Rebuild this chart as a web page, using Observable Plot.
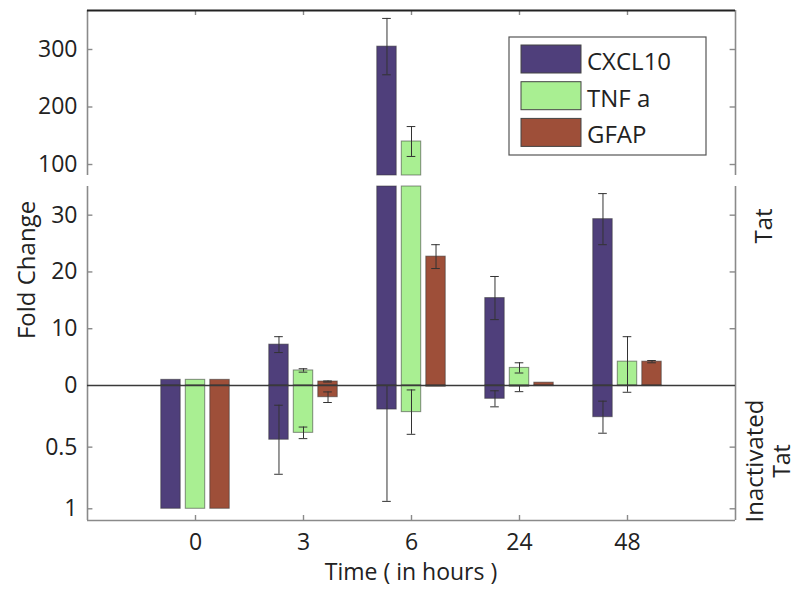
<!DOCTYPE html>
<html><head><meta charset="utf-8">
<script src="https://cdn.jsdelivr.net/npm/d3@7"></script>
<script src="https://cdn.jsdelivr.net/npm/@observablehq/plot@0.6"></script>
<style>
html,body{margin:0;padding:0;background:#fff;}
#chart{position:relative;width:798px;height:589px;font-family:"Open Sans",sans-serif;}
#chart svg{position:absolute;left:0;top:0;}
</style></head><body><div id="chart"></div>
<script>
// ---- data ----
const times = ["0", "3", "6", "24", "48"];
const series = ["CXCL10", "TNF a", "GFAP"];
const colors = ["#4f3f7b", "#a9ef92", "#9e4f39"];

// Tat (fold change, upward)
const tatCXCL10 = [1, 7.2, 305, 15.4, 29.3];
const tatCXCL10Err = [0, 1.4, 49, 3.8, 4.5];
const tatTNF = [1, 2.65, 140, 3.1, 4.2];
const tatTNFErr = [0, 0.3, 26, 0.9, 4.4];
const tatGFAP = [1, 0.7, 22.7, 0.5, 4.2];
const tatGFAPErr = [0, 0.1, 2.1, 0, 0.2];

// Inactivated Tat (downward)
const inaCXCL10 = [1, 0.44, 0.195, 0.108, 0.257];
const inaCXCL10Err = [0, 0.28, 0.745, 0.065, 0.13];
const inaTNF = [1, 0.384, 0.216, 0.01, 0.005];
const inaTNFErr = [0, 0.047, 0.18, 0.04, 0.05];
const inaGFAP = [1, 0.095, 0.01, 0.005, 0.005];
const inaGFAPErr = [0, 0.043, 0, 0, 0];

const topTicks = [100, 200, 300];
const midTicks = [0, 10, 20, 30];
const botTicks = [0.5, 1];

// ---- build rows ----
const tatV = [tatCXCL10, tatTNF, tatGFAP], tatE = [tatCXCL10Err, tatTNFErr, tatGFAPErr];
const inaV = [inaCXCL10, inaTNF, inaGFAP], inaE = [inaCXCL10Err, inaTNFErr, inaGFAPErr];
const rows = [];
series.forEach((s, j) => times.forEach((t, i) => rows.push({
  series: s, j, i, tat: tatV[j][i], tatErr: tatE[j][i], ina: inaV[j][i], inaErr: inaE[j][i]
})));
const off = 0.227, bw = 0.18, cap = 0.04, tk = 0.05;
const cx = d => d.i + 1 + (d.j - 1) * off;
const catPos = times.map((t, i) => i + 1);

const W = 798, H = 589, mL = 87, mR = 63;
const topDom = [80.9, 367.8], midDom = [0, 35.05], botDom = [0, 1.095];

function errRows(key, ekey, filt) {
  return rows.filter(d => d[ekey] > 0 && filt(d)).map(d => ({
    x: cx(d), lo: Math.max(0, d[key] - d[ekey]), hi: d[key] + d[ekey], loCap: d[key] - d[ekey] > 0
  }));
}
function caps(errs) {
  const c = [];
  errs.forEach(e => { c.push({x: e.x, y: e.hi}); if (e.loCap) c.push({x: e.x, y: e.lo}); });
  return c;
}
const colorScale = {domain: series, range: colors};
const spine = "#8a8a8a", ink = "#222";
const barStyle = {stroke: "#333", strokeOpacity: 0.55, strokeWidth: 1};
const axisText = {tickSize: 0, tickPadding: 10, fontSize: 23, fill: ink, label: null};
const common = {width: W, height: H, marginLeft: mL, marginRight: mR,
  style: "background: transparent; overflow: visible; font-family: 'Open Sans', sans-serif;"};

// ---- top panel (Tat, large values) ----
const errTop = errRows("tat", "tatErr", d => d.tat > topDom[0]);
const pTop = Plot.plot({
  ...common, marginTop: 10, marginBottom: H - 175,
  x: {domain: [0, 6], axis: null},
  y: {domain: topDom, clamp: true},
  color: colorScale,
  marks: [
    Plot.rectY(rows.filter(d => d.tat > topDom[0]), {x1: d => cx(d) - bw / 2, x2: d => cx(d) + bw / 2, y1: d => 0, y2: "tat", fill: "series", ...barStyle}),
    Plot.ruleX(errTop, {x: "x", y1: "lo", y2: "hi", stroke: "#333", strokeWidth: 1}),
    Plot.ruleY(caps(errTop), {y: "y", x1: d => d.x - cap, x2: d => d.x + cap, stroke: "#333", strokeWidth: 1}),
    Plot.ruleX([0, 6], {stroke: spine, strokeWidth: 1.6}),
    Plot.ruleY(topTicks, {y: d => d, x1: d => 0, x2: d => tk, stroke: spine, strokeWidth: 1.4}),
    Plot.ruleY(topTicks, {y: d => d, x1: d => 6 - tk, x2: d => 6, stroke: spine, strokeWidth: 1.4}),
    Plot.ruleX(catPos, {x: d => d, y1: d => topDom[1], y2: d => topDom[1] - 5 / 0.575, stroke: spine, strokeWidth: 1.4}),
    Plot.ruleY([topDom[1]], {stroke: "#222", strokeWidth: 2}),
    Plot.axisY({ticks: topTicks, ...axisText})
  ]
});

// ---- middle panel (Tat) ----
const errMid = errRows("tat", "tatErr", d => d.tat <= midDom[1]);
const pMid = Plot.plot({
  ...common, marginTop: 186, marginBottom: H - 385,
  x: {domain: [0, 6], axis: null},
  y: {domain: midDom, clamp: true},
  color: colorScale,
  marks: [
    Plot.rectY(rows, {x1: d => cx(d) - bw / 2, x2: d => cx(d) + bw / 2, y1: d => 0, y2: "tat", fill: "series", ...barStyle}),
    Plot.ruleX(errMid, {x: "x", y1: "lo", y2: "hi", stroke: "#333", strokeWidth: 1}),
    Plot.ruleY(caps(errMid), {y: "y", x1: d => d.x - cap, x2: d => d.x + cap, stroke: "#333", strokeWidth: 1}),
    Plot.ruleX([0, 6], {stroke: spine, strokeWidth: 1.6}),
    Plot.ruleY(midTicks.slice(1), {y: d => d, x1: d => 0, x2: d => tk, stroke: spine, strokeWidth: 1.4}),
    Plot.ruleY(midTicks.slice(1), {y: d => d, x1: d => 6 - tk, x2: d => 6, stroke: spine, strokeWidth: 1.4}),
    Plot.axisY({ticks: midTicks, ...axisText})
  ]
});

// ---- bottom panel (Inactivated Tat) ----
const errBot = errRows("ina", "inaErr", d => true);
const pBot = Plot.plot({
  ...common, marginTop: 385, marginBottom: H - 520,
  x: {domain: [0, 6]},
  y: {domain: botDom, reverse: true, clamp: true},
  color: colorScale,
  marks: [
    Plot.rectY(rows, {x1: d => cx(d) - bw / 2, x2: d => cx(d) + bw / 2, y1: d => 0, y2: "ina", fill: "series", ...barStyle}),
    Plot.ruleX(errBot, {x: "x", y1: "lo", y2: "hi", stroke: "#333", strokeWidth: 1}),
    Plot.ruleY(caps(errBot), {y: "y", x1: d => d.x - cap, x2: d => d.x + cap, stroke: "#333", strokeWidth: 1}),
    Plot.ruleX([0, 6], {stroke: spine, strokeWidth: 1.6}),
    Plot.ruleY([botDom[1]], {stroke: spine, strokeWidth: 1.6}),
    Plot.ruleY(botTicks, {y: d => d, x1: d => 0, x2: d => tk, stroke: spine, strokeWidth: 1.4}),
    Plot.ruleY(botTicks, {y: d => d, x1: d => 6 - tk, x2: d => 6, stroke: spine, strokeWidth: 1.4}),
    Plot.ruleX(catPos, {x: d => d, y1: d => botDom[1], y2: d => botDom[1] - 5 / 123.3, stroke: spine, strokeWidth: 1.4}),
    Plot.ruleY([0], {stroke: "#3a3a3a", strokeWidth: 1.6}),
    Plot.axisY({ticks: botTicks, tickFormat: d => String(d), ...axisText}),
    Plot.axisX({ticks: catPos, tickFormat: d => times[d - 1], tickSize: 0, tickPadding: 13, fontSize: 23, fill: ink, label: null})
  ]
});

const root = document.getElementById("chart");
root.append(pTop, pMid, pBot);

// ---- overlay: titles & legend ----
const svg = d3.select(root).append("svg").attr("width", W).attr("height", H)
  .style("font-family", "'Open Sans', sans-serif").style("pointer-events", "none");
const lab = (x, y, txt, rot, size = 24) => svg.append("text").attr("transform", `translate(${x},${y})` + (rot ? " rotate(-90)" : ""))
  .attr("text-anchor", "middle").attr("font-size", size).attr("fill", ink).text(txt);
lab(35, 270, "Fold Change", true);
lab(772, 226, "Tat", true);
lab(763, 461, "Inactivated", true);
lab(790, 461, "Tat", true, 23);
lab(411, 580, "Time ( in hours )", false, 23);

const lg = svg.append("g");
lg.append("rect").attr("x", 509).attr("y", 37).attr("width", 197).attr("height", 118)
  .attr("fill", "#fff").attr("stroke", "#555").attr("stroke-width", 1.2);
series.forEach((s, k) => {
  lg.append("rect").attr("x", 521).attr("y", 45 + k * 36.7).attr("width", 60).attr("height", 28)
    .attr("fill", colors[k]).attr("stroke", "#444").attr("stroke-width", 1);
  lg.append("text").attr("x", 587).attr("y", 70 + k * 36.7).attr("font-size", 24).attr("fill", ink).text(s);
});
</script></body></html>
